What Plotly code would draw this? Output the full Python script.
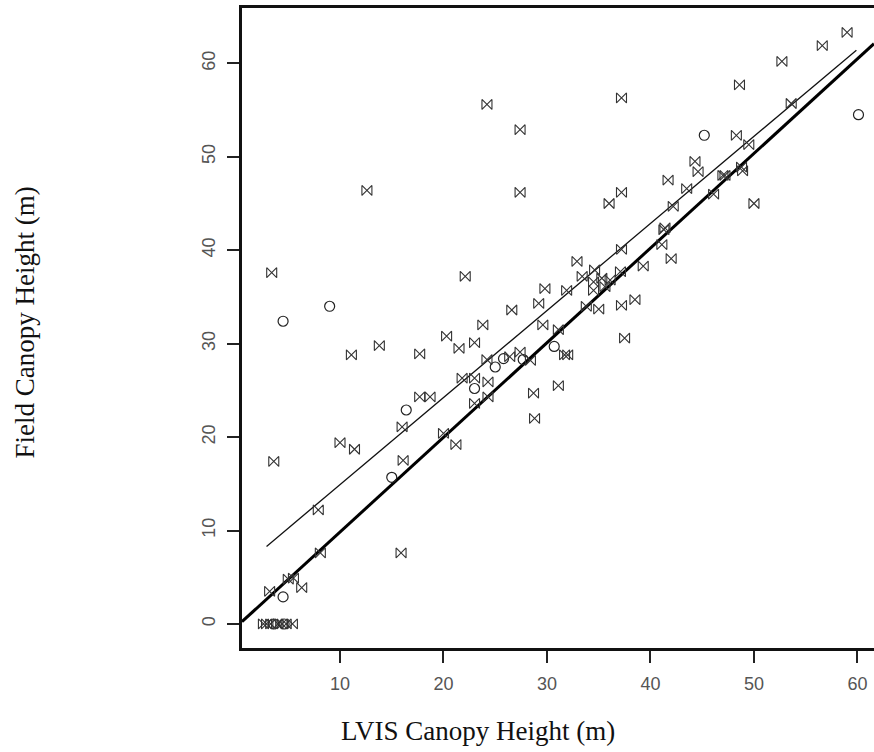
import plotly.graph_objects as go

# "}{" style points (LVIS height, field height)
sym_x = [59.0, 56.6, 52.7, 48.6, 37.2, 24.2, 53.6, 27.4, 48.3, 49.5, 44.3, 44.6, 48.8, 48.9, 47.2, 47.0,
         41.7, 43.5, 12.6, 27.4, 37.2, 46.1, 50.0, 36.0, 42.2, 41.4, 41.3, 41.1, 42.0, 37.2, 39.3,
         32.9, 37.1, 34.6, 33.4, 35.3, 34.5, 36.1, 34.5, 35.6, 29.8, 31.9, 37.2, 38.5, 33.8, 35.0,
         29.6, 31.1, 37.5, 31.7, 32.0, 31.1, 3.4, 11.1, 13.8, 17.7, 22.1, 20.3, 21.5, 23.0, 23.8,
         26.6, 29.2, 24.2, 26.4, 27.4, 28.4, 21.8, 23.0, 24.3, 17.7, 18.7, 28.7, 24.3, 3.6, 10.0,
         11.4, 16.0, 16.1, 7.9, 8.1, 15.9, 20.0, 21.2, 23.0, 28.8, 5.0, 5.5, 6.3, 3.2,
         2.6, 2.9, 3.3, 4.0, 4.4, 4.8, 5.4]
sym_y = [63.3, 61.9, 60.2, 57.7, 56.3, 55.6, 55.7, 52.9, 52.3, 51.3, 49.5, 48.4, 48.9, 48.5, 48.0, 48.0,
         47.5, 46.6, 46.4, 46.2, 46.2, 46.0, 45.0, 45.0, 44.7, 42.4, 42.2, 40.6, 39.1, 40.1, 38.3,
         38.8, 37.7, 37.9, 37.2, 37.0, 36.6, 36.8, 35.7, 36.1, 35.9, 35.7, 34.1, 34.7, 34.0, 33.7,
         32.0, 31.5, 30.6, 28.8, 28.8, 25.5, 37.6, 28.8, 29.8, 28.9, 37.2, 30.8, 29.5, 30.1, 32.0,
         33.6, 34.3, 28.3, 28.6, 29.1, 28.2, 26.3, 26.3, 25.9, 24.3, 24.3, 24.7, 24.3, 17.4, 19.4,
         18.7, 21.1, 17.5, 12.2, 7.6, 7.6, 20.4, 19.2, 23.6, 22.0, 4.8, 4.9, 3.9, 3.5,
         0, 0, 0, 0, 0, 0, 0]

# open-circle points
circ_x = [4.5, 9.0, 16.4, 15.0, 4.5, 25.0, 25.8, 27.7, 23.0, 30.7, 45.2, 60.1, 3.6, 4.6]
circ_y = [32.4, 34.0, 22.9, 15.7, 2.9, 27.5, 28.4, 28.3, 25.2, 29.7, 52.3, 54.5, 0, 0]

# fitted lines (endpoints)
thick_x = [0.53, 61.6]
thick_y = [0.25, 62.1]
thin_x = [2.9, 59.9]
thin_y = [8.3, 61.4]

x_ticks = [10, 20, 30, 40, 50, 60]
y_ticks = [0, 10, 20, 30, 40, 50, 60]
x_title = "LVIS Canopy Height (m)"
y_title = "Field Canopy Height (m)"

fig = go.Figure()
fig.add_trace(go.Scatter(x=thin_x, y=thin_y, mode="lines",
                         line=dict(color="#111111", width=1.3), showlegend=False))
fig.add_trace(go.Scatter(x=thick_x, y=thick_y, mode="lines",
                         line=dict(color="#000000", width=3), showlegend=False))
fig.add_trace(go.Scatter(x=circ_x, y=circ_y, mode="markers",
                         marker=dict(symbol="circle-open", size=10, color="#222222",
                                     line=dict(width=1.2, color="#222222")),
                         showlegend=False))
fig.add_trace(go.Scatter(x=sym_x, y=sym_y, mode="markers",
                         marker=dict(symbol="bowtie-open", size=10, color="#333333",
                                     line=dict(width=1.1, color="#333333")),
                         showlegend=False))

fig.update_layout(
    width=874, height=752,
    margin=dict(l=242, r=0, t=8, b=104),
    paper_bgcolor="white", plot_bgcolor="white",
    xaxis=dict(range=[0.53, 61.6], tickvals=x_ticks, ticks="outside", ticklen=12,
               tickwidth=1.5, tickcolor="#222222", ticklabelstandoff=5,
               showline=True, linewidth=3, linecolor="#111111", mirror=True,
               showgrid=False, zeroline=False,
               tickfont=dict(family="Liberation Sans", size=18, color="#555555")),
    yaxis=dict(range=[-2.57, 65.92], tickvals=y_ticks, ticks="outside", ticklen=12,
               tickwidth=1.5, tickcolor="#222222", tickangle=-90, ticklabelstandoff=5,
               showline=True, linewidth=3, linecolor="#111111",
               showgrid=False, zeroline=False,
               tickfont=dict(family="Liberation Sans", size=18, color="#555555")),
    annotations=[
        dict(text=x_title, xref="paper", yref="paper", x=0.373, y=-0.13,
             xanchor="center", yanchor="middle", showarrow=False,
             font=dict(family="Liberation Serif", size=27, color="#111111")),
        dict(text=y_title, xref="paper", yref="paper", x=-0.343, y=0.509,
             xanchor="center", yanchor="middle", showarrow=False, textangle=-90,
             font=dict(family="Liberation Serif", size=27, color="#111111")),
    ],
)

fig.write_html("out.html")
